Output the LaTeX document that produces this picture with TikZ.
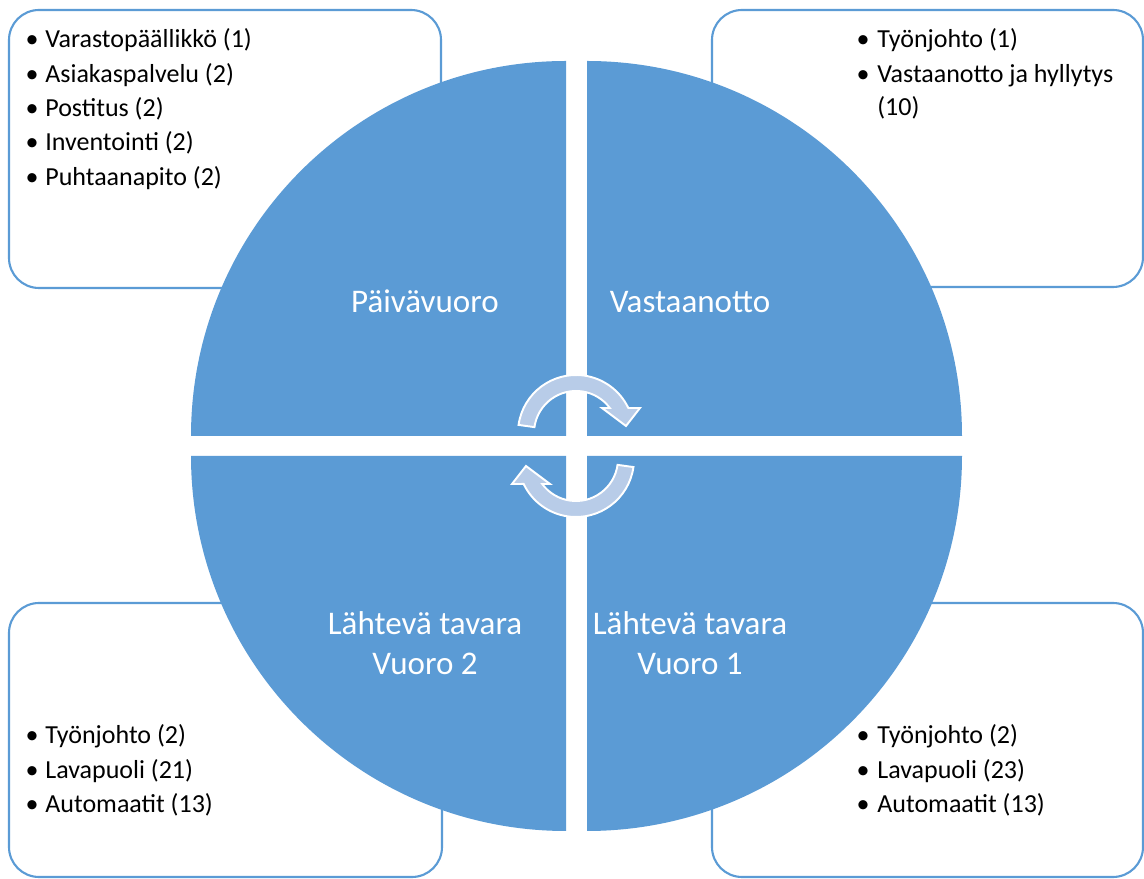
\documentclass[tikz,border=0pt]{standalone}
\usepackage{fontspec}
\setmainfont{Carlito}
\usepackage{xcolor}
\definecolor{quadblue}{HTML}{5B9BD5}
\definecolor{arrowblue}{RGB}{184,204,232}

\begin{document}
\begin{tikzpicture}[x=0.02cm,y=0.02cm]
\def\rad{375}
\def\lsp{34.3}
\tikzset{
	list box/.style={draw=quadblue, line width=1.2pt, fill=white, rounded corners=0.6cm},
	quadrant/.style={fill=quadblue},
	quad label/.style={text=white, inner sep=0, anchor=base, font=\fontsize{18.8}{22.8}\selectfont},
	list item/.style={inner sep=0, anchor=base west, font=\fontsize{14.8}{18}\selectfont},
	list bullet/.style={inner sep=0, anchor=base, font=\fontsize{14.8}{18}\selectfont},
	cycle arrow/.style={fill=arrowblue, draw=white, line width=1.1pt}
}
\useasboundingbox (0,0) rectangle (1144,879);
\draw[list box] (9,869) rectangle (441,591);
\draw[list box] (712,869) rectangle (1143,592);
\draw[list box] (9,276) rectangle (442,2);
\draw[list box] (712,276) rectangle (1143,2);
\def\daylist{Varastopäällikkö (1),Asiakaspalvelu (2),Postitus (2),Inventointi (2),Puhtaanapito (2)}
\def\recvlist{Työnjohto (1),Vastaanotto ja hyllytys}
\def\outtwolist{Työnjohto (2),Lavapuoli (21),Automaatit (13)}
\def\outonelist{Työnjohto (2),Lavapuoli (23),Automaatit (13)}
\foreach \item [count=\i] in \daylist
{
	\node[list bullet] (db\i) at (32,831-\lsp*\i+\lsp) {\textbullet};
	\node[list item] (di\i) at (45,831-\lsp*\i+\lsp) {\item};
}
\foreach \item [count=\i] in \recvlist
{
	\node[list bullet] (rb\i) at (863,831-\lsp*\i+\lsp) {\textbullet};
	\node[list item] (ri\i) at (877,831-\lsp*\i+\lsp) {\item};
}
\node[list item] (ri3) at (877,763) {(10)};
\foreach \item [count=\i] in \outtwolist
{
	\node[list bullet] (tb\i) at (32,135-\lsp*\i+\lsp) {\textbullet};
	\node[list item] (ti\i) at (45,135-\lsp*\i+\lsp) {\item};
}
\foreach \item [count=\i] in \outonelist
{
	\node[list bullet] (ob\i) at (863,135-\lsp*\i+\lsp) {\textbullet};
	\node[list item] (oi\i) at (877,135-\lsp*\i+\lsp) {\item};
}
\fill[quadrant] (566,443) -- ++(-\rad,0) arc[start angle=180, end angle=90, radius=\rad] -- cycle;
\fill[quadrant] (587,443) -- ++(0,\rad) arc[start angle=90, end angle=0, radius=\rad] -- cycle;
\fill[quadrant] (566,423) -- ++(0,-\rad) arc[start angle=270, end angle=180, radius=\rad] -- cycle;
\fill[quadrant] (587,423) -- ++(\rad,0) arc[start angle=0, end angle=-90, radius=\rad] -- cycle;
\foreach \r in {0,180}
{
	\path[cycle arrow, rotate around={\r:(576,433)}]
		([shift={(172:58)}]576,446) arc[start angle=172, end angle=25.5, radius=58]
		-- (640,471) -- (626,453) -- (602,471) -- (609.8,471)
		arc[start angle=36.5, end angle=172, radius=42] -- cycle;
}
\node[quad label] (day) at (425,566) {Päivävuoro};
\node[quad label] (recv) at (690,566) {Vastaanotto};
\node[quad label] (outtwo) at (425,244) {Lähtevä tavara};
\node[quad label] (outtwon) at (425,204) {Vuoro 2};
\node[quad label] (outone) at (690,244) {Lähtevä tavara};
\node[quad label] (outonen) at (690,204) {Vuoro 1};
\end{tikzpicture}
\end{document}
